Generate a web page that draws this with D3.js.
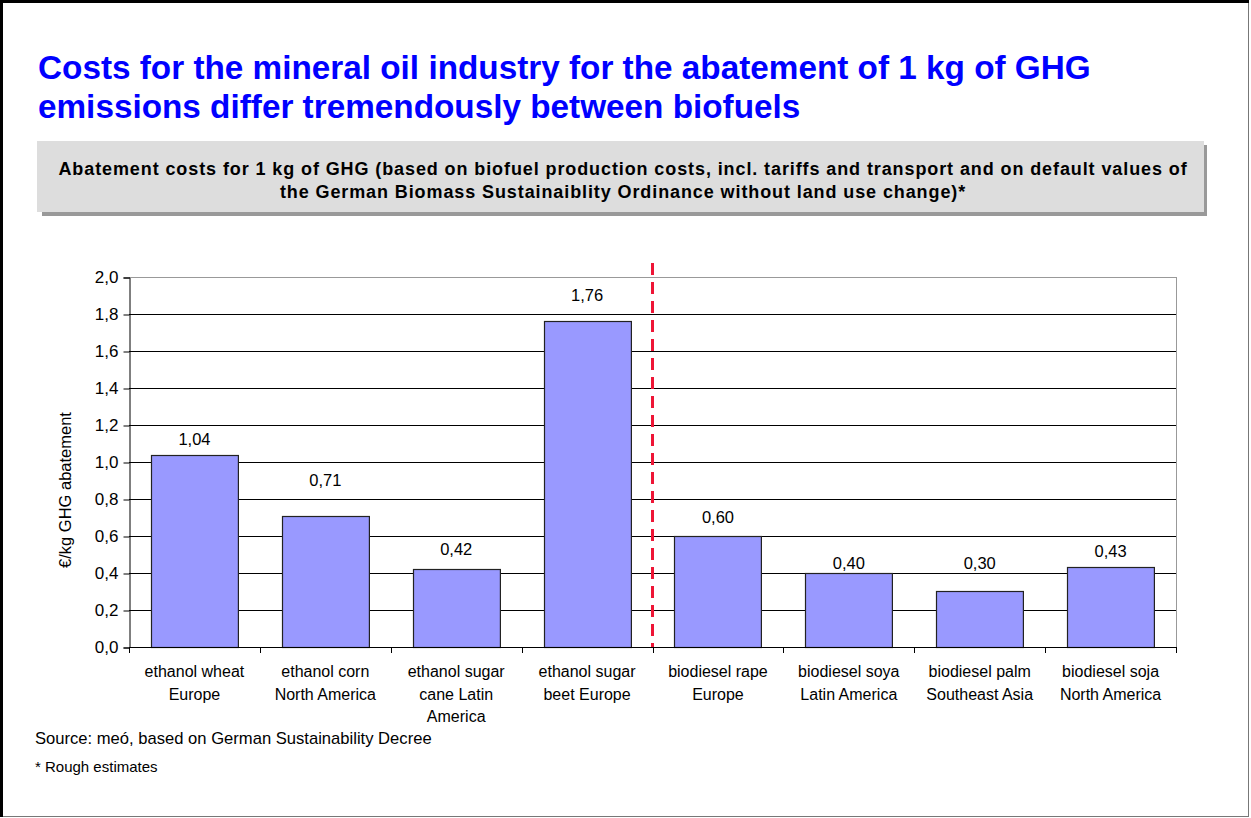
<!DOCTYPE html>
<html>
<head>
<meta charset="utf-8">
<script src="https://cdn.jsdelivr.net/npm/d3@7"></script>
<style>
  body { margin: 0; background: #fff; }
  svg { display: block; font-family: "Liberation Sans", Arial, sans-serif; }
</style>
</head>
<body>
<svg width="1251" height="818"></svg>
<script>
// chart data
var categories = [
    ["ethanol wheat", "Europe"],
    ["ethanol corn", "North America"],
    ["ethanol sugar", "cane Latin", "America"],
    ["ethanol sugar", "beet Europe"],
    ["biodiesel rape", "Europe"],
    ["biodiesel soya", "Latin America"],
    ["biodiesel palm", "Southeast Asia"],
    ["biodiesel soja", "North America"]
];
var values = [1.04, 0.71, 0.42, 1.76, 0.60, 0.40, 0.30, 0.43];
var yTicks = [0, 0.2, 0.4, 0.6, 0.8, 1.0, 1.2, 1.4, 1.6, 1.8, 2.0];
var titleLines = ["Costs for the mineral oil industry for the abatement of 1 kg of GHG",
                  "emissions differ tremendously between biofuels"];
var subtitleLines = ["Abatement costs for 1 kg of GHG (based on biofuel production costs, incl. tariffs and transport and on default values of",
                     "the German Biomass Sustainaiblity Ordinance without land use change)*"];

// labels were hand-placed in the original; gap in px from bar top to label centre
var labelGap = [15, 35, 20, 26, 19, 10, 28, 16];

function draw() {
    var svg = d3.select("svg");
    var fmt = v => d3.format(".1f")(v).replace(".", ",");
    var fmt2 = v => d3.format(".2f")(v).replace(".", ",");

    // page frame
    svg.append("rect").attr("x", 1.5).attr("y", 1.5).attr("width", 1247).attr("height", 815)
        .attr("fill", "none").attr("stroke", "#777").attr("stroke-width", 1);
    svg.append("path").attr("d", "M1.5,817 V1.5 H1249")
        .attr("fill", "none").attr("stroke", "#000").attr("stroke-width", 3);

    // title
    svg.append("g").selectAll("text").data(titleLines).enter().append("text")
        .attr("x", 38).attr("y", (d, i) => 79 + i * 39)
        .attr("fill", "#0000ff").attr("font-size", 33.3).attr("font-weight", "bold")
        .text(d => d);

    // subtitle box with shadow
    svg.append("rect").attr("x", 42).attr("y", 145).attr("width", 1165).attr("height", 71).attr("fill", "#999");
    svg.append("rect").attr("x", 37).attr("y", 141).attr("width", 1167).attr("height", 71).attr("fill", "#dddddd");
    svg.append("g").selectAll("text").data(subtitleLines).enter().append("text")
        .attr("x", 623).attr("y", (d, i) => 175 + i * 23)
        .attr("text-anchor", "middle").attr("font-size", 18).attr("letter-spacing", 0.9)
        .attr("font-weight", "bold")
        .text(d => d);

    // plot area
    var pxL = 129, pxR = 1176, pxT = 277, pxB = 647;
    var x = d3.scaleBand().domain(d3.range(categories.length)).range([pxL, pxR])
        .paddingInner(0.336).paddingOuter(0.168);
    var y = d3.scaleLinear().domain([0, 2]).range([pxB, pxT]);

    // gridlines
    svg.append("g").selectAll("line").data(yTicks.filter(t => t > 0)).enter().append("line")
        .attr("x1", pxL).attr("x2", pxR)
        .attr("y1", d => Math.round(y(d)) + 0.5).attr("y2", d => Math.round(y(d)) + 0.5)
        .attr("stroke", d => d === 2 ? "#999" : "#000").attr("stroke-width", 1);
    svg.append("line").attr("x1", pxR + 0.5).attr("x2", pxR + 0.5).attr("y1", pxT).attr("y2", pxB)
        .attr("stroke", "#999");

    // bars
    svg.append("g").selectAll("rect").data(values).enter().append("rect")
        .attr("x", (d, i) => Math.round(x(i)) + 0.5)
        .attr("y", d => Math.round(y(d)) + 0.5)
        .attr("width", x.bandwidth())
        .attr("height", d => pxB - Math.round(y(d)))
        .attr("fill", "#9999ff").attr("stroke", "#222").attr("stroke-width", 1.2);

    // value labels
    svg.append("g").selectAll("text").data(values).enter().append("text")
        .attr("x", (d, i) => x(i) + x.bandwidth() / 2)
        .attr("y", (d, i) => y(d) - labelGap[i])
        .attr("dy", "0.35em").attr("text-anchor", "middle").attr("font-size", 16.5)
        .text(d => fmt2(d));

    // y axis
    var yAxis = svg.append("g").attr("transform", "translate(" + (pxL + 0.5) + ",0.5)")
        .call(d3.axisLeft(y).tickValues(yTicks).tickFormat(fmt).tickSize(6).tickPadding(5));
    yAxis.select(".domain").attr("stroke", "#000");
    yAxis.selectAll("line").attr("stroke", "#000");
    yAxis.selectAll("text").attr("font-size", 17)
        .attr("font-family", "Liberation Sans, Arial, sans-serif").attr("fill", "#000");

    // x axis: ticks at category boundaries
    var xAxis = svg.append("g");
    xAxis.append("line").attr("x1", pxL).attr("x2", pxR + 1)
        .attr("y1", pxB + 0.5).attr("y2", pxB + 0.5).attr("stroke", "#000");
    xAxis.selectAll(".tk").data(d3.range(categories.length + 1)).enter().append("line")
        .attr("x1", i => Math.round(pxL + i * x.step()) + 0.5)
        .attr("x2", i => Math.round(pxL + i * x.step()) + 0.5)
        .attr("y1", pxB).attr("y2", pxB + 6).attr("stroke", "#000");
    xAxis.selectAll(".lbl").data(categories).enter().append("text")
        .attr("x", (d, i) => x(i) + x.bandwidth() / 2)
        .attr("y", 677).attr("text-anchor", "middle").attr("font-size", 16)
        .each(function(d) {
            var cx = d3.select(this).attr("x");
            d3.select(this).selectAll("tspan").data(d).enter().append("tspan")
                .attr("x", cx)
                .attr("dy", (t, j) => j === 0 ? 0 : 22.5)
                .text(t => t);
        });

    // y axis title
    svg.append("text").attr("transform", "translate(71,490) rotate(-90)")
        .attr("text-anchor", "middle").attr("font-size", 16.5)
        .text("€/kg GHG abatement");

    // separator between ethanol and biodiesel
    var sepX = pxL + 4 * x.step();
    svg.append("line").attr("x1", sepX).attr("x2", sepX).attr("y1", 263).attr("y2", pxB)
        .attr("stroke", "#ee1536").attr("stroke-width", 3).attr("stroke-dasharray", "12,7");

    // footnotes
    svg.append("text").attr("x", 35).attr("y", 744).attr("font-size", 16.6)
        .text("Source: meó, based on German Sustainability Decree");
    svg.append("text").attr("x", 35).attr("y", 772).attr("font-size", 15)
        .text("* Rough estimates");
}
draw();
</script>
</body>
</html>
